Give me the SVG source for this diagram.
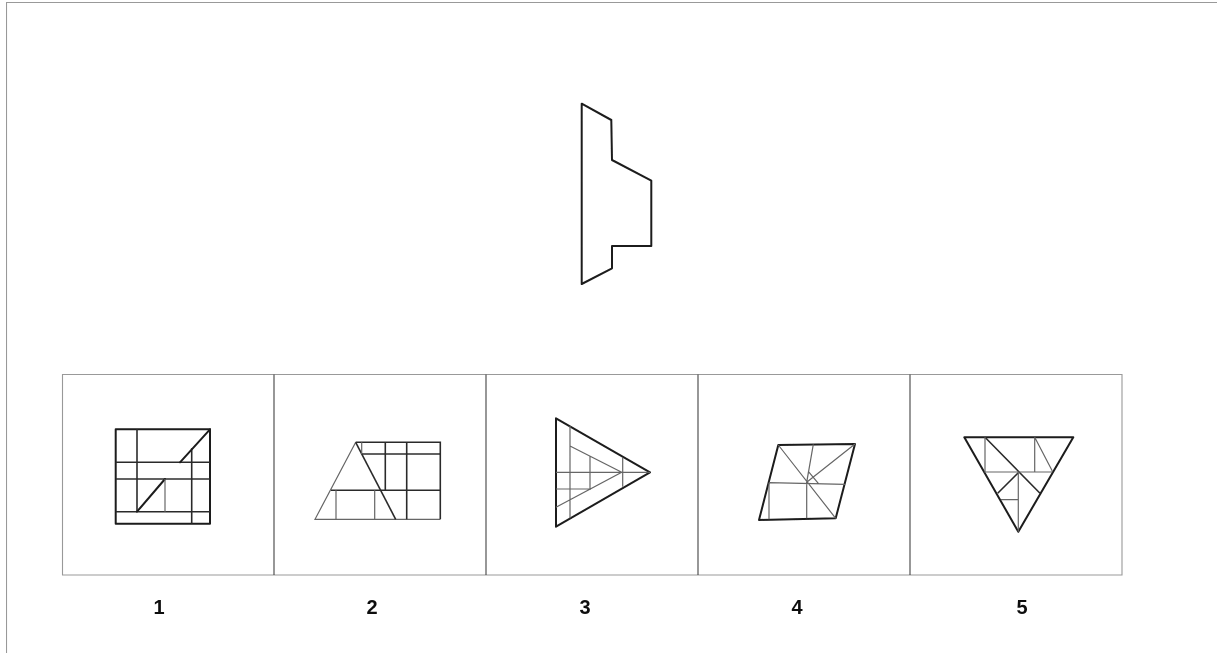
<svg xmlns="http://www.w3.org/2000/svg" width="1217" height="653" viewBox="0 0 1217 653">
<style>
.a{fill:none;stroke:#1c1c1c;stroke-width:2;stroke-linejoin:round;stroke-linecap:round}
.b{fill:none;stroke:#2c2c2c;stroke-width:1.6}
.c{fill:none;stroke:#666;stroke-width:1.2}
.f{fill:none;stroke:#999;stroke-width:1.1}
.d{fill:none;stroke:#444;stroke-width:1.1}
.n{font:bold 20px "Liberation Sans",Arial,sans-serif;fill:#111;text-anchor:middle}
</style>
<defs><filter id="soft" x="0" y="0" width="100%" height="100%"><feGaussianBlur stdDeviation="0.35"/></filter></defs>
<rect width="1217" height="653" fill="#fff"/>
<g filter="url(#soft)">
<g id="page-border"><path class="f" d="M6.500 653V2.500H1217"/></g>
<g id="target"><path class="a" d="M581.700 103.700L611.300 120L612 160L651.300 180.700V246H612V268.300L581.700 284Z"/></g>
<g id="frames"><path class="f" d="M62.500 374.500H1122V575H62.500Z"/><path class="d" d="M274 374.500V575M486 374.500V575M698 374.500V575M910 374.500V575"/></g>
<g id="option-1">
<path class="a" d="M115.700 429.300H210V523.700H115.700Z"/>
<path class="b" d="M137 429.300V511.700M115.700 462.300H210M115.700 479H210M115.700 511.700H210M191.700 448.300V523.700"/>
<path class="a" d="M210 429.300L180 462.300M137 511.700L165 479"/>
<path class="c" d="M165 479V511.700"/>
<text class="n" x="159" y="614">1</text></g>
<g id="option-2">
<path class="c" d="M355.700 442.300L315 519.300H440.300"/>
<path class="b" d="M355.700 442.300H440.300V519.300M361.700 454H440.300M385.300 442.300V490.300M406.700 442.300V519.300M331 490.300H440.300"/>
<path class="b" d="M355.700 442.300L395.700 519.300"/>
<path class="c" d="M361.700 442.300V454M336 490.300V519.300M374.700 490.300V519.300"/>
<text class="n" x="372" y="614">2</text></g>
<g id="option-3">
<path class="a" d="M556 418.300L650 472.300L556 526.700Z"/>
<path class="c" d="M556 472.300H650M570 426V518.300M570 446L621.700 472.300L556 507.300M590 456V490M556 489H590M622.700 457.700V486.700"/>
<text class="n" x="585" y="614">3</text></g>
<g id="option-4">
<path class="a" d="M778.300 445L855 444L835.700 518.300L759 520Z"/>
<path class="c" d="M778.300 445L835.700 518.300M855 444L806.700 482.300M813.300 444.300L806.700 482.300V518.300M769 482.700L845 484.300M769 482.700V519.300M808.500 471.700L818.300 483.300M806.700 482.300L808.500 471.700"/>
<text class="n" x="797" y="614">4</text></g>
<g id="option-5">
<path class="a" d="M964.300 437.300H1073.300L1018.300 531.700Z"/>
<path class="b" d="M985 437.300L1040 493.300M1018.300 472.700L997.700 493.300"/>
<path class="c" d="M985 437.300V472H1052.300M1034.700 437.300V472M1034.700 437.300L1052.300 471M1018.300 472.700V531.700M1001 499.700H1018.300"/>
<text class="n" x="1022" y="614">5</text></g>
</g>
</svg>
